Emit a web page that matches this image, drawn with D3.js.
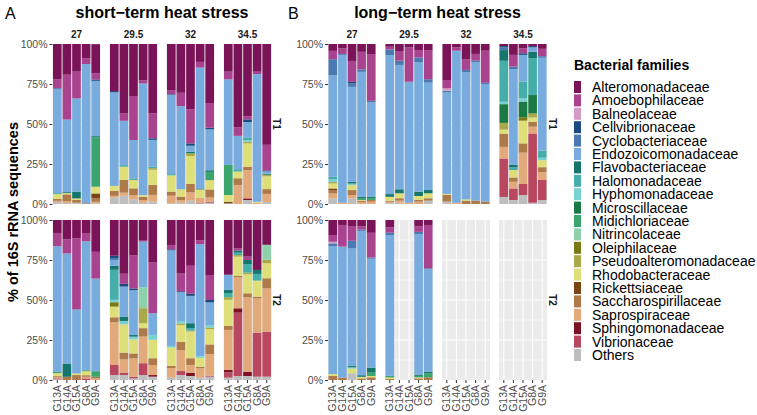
<!DOCTYPE html>
<html><head><meta charset="utf-8">
<script src="https://cdn.jsdelivr.net/npm/d3@7"></script>
<style>
body{margin:0;background:#fff;}
svg{display:block;font-family:"Liberation Sans",Arial,Helvetica,sans-serif;}
</style></head>
<body><svg id="chart" width="757" height="415"></svg>
<script>
const experimentTitles = ["short\u2212term heat stress", "long\u2212term heat stress"];
const panelLetters = ["A", "B"];
const temps = ["27", "29.5", "32", "34.5"];
const times = ["T1", "T2"];
const samples = ["G13A", "G14A", "G15A", "G8A", "G9A"];
const yTicks = [0, 25, 50, 75, 100];
const families = ["Alteromonadaceae","Amoebophilaceae","Balneolaceae","Cellvibrionaceae","Cyclobacteriaceae",
  "Endozoicomonadaceae","Flavobacteriaceae","Halomonadaceae","Hyphomonadaceae","Microscillaceae",
  "Midichloriaceae","Nitrincolaceae","Oleiphilaceae","Pseudoalteromonadaceae","Rhodobacteraceae",
  "Rickettsiaceae","Saccharospirillaceae","Saprospiraceae","Sphingomonadaceae","Vibrionaceae","Others"];
const familyColors = ["#7b1359","#a9428f","#d39cc4","#1c4a7e","#4b7ab2","#78abde","#14766c","#45aea8",
  "#78d2d0","#1a7a43","#3aa56c","#8fd1ab","#7a7a14","#aaa94a","#dfdf7a","#7a4513","#ae7a4a","#e2a97a",
  "#7c1224","#b9475f","#bebebe"];

// bar order: [short T1 (27,29.5,32,34.5 x samples)], [short T2], [long T1], [long T2]
const Alteromonadaceae = [
 22,19.2,17.3,9,18.3, 29.4,43.4,32.5,22.7,43.3, 28.8,30.5,40.8,11.2,36.9, 17.3,52,45.1,17.3,63,
 8.1,12.1,11.5,8.5,19.9, 22.3,33.6,22,12.9,26.6, 15.6,33.5,28.6,12.6,34.4, 34.2,17.6,22.9,31.2,15.5,
 4.3,2.7,10.6,4.9,6.3, 1.7,4.4,2.1,3.8,4.1, 22.5,2.1,9.5,6.2,4.2, 1.3,6.8,2.7,1.3,3,
 9.4,3.1,3.8,3.9,8, 4.6,0,0,3.9,3.1, 0,0,0,0,0, 0,0,0,0,0];
const Amoebophilaceae = [
 5.6,28,16.7,3.5,3.8, 0,4.6,27.5,2,15.6, 2.5,8.3,21.3,3.5,15.4, 4.8,5.4,2,1.5,16,
 8.3,8.8,44.4,4.8,16.7, 0,6.3,20.8,0.6,31.7, 2.7,11,17.5,2.5,15.6, 0,1.5,2.1,0,0,
 5.2,3.5,13.1,11,29.2, 1.7,6,21.5,4.6,17.9, 5.2,2.1,6.7,4.2,20, 0,7.3,3.1,0,4.6,
 4.2,13.5,9.2,2.1,15.4, 3.3,0,0,3.5,27.1, 0,0,0,0,0, 0,0,0,0,0];
const Balneolaceae = [
 0,0,0,0,0, 0,0,0,0,0, 0,0,0,0,0, 0,0,0,0,0,
 0,0,0,0,0, 0,0,0,0,0, 0,0,0,0,0, 0,0,0,0,0,
 0,0,0,0,0, 0,0,0,0,0, 1.5,0,0,0,0, 0,0,0,0,0,
 1,0,0,0,0, 0,0,0,0,0, 0,0,0,0,0, 0,0,0,0,0];
const Cellvibrionaceae = [
 0,0,0,0,0.8, 0.8,0,0,0,1, 0,0,1.5,0,1, 0,0,1.7,0,0.6,
 0,0,0,0,0, 1.5,1.7,1,0,0, 0.6,0.6,1.3,0,1.5, 0,0,0,0,0,
 0,0,1,0,0, 0,0,0,0,0, 0,0,0,0,0, 0.8,0,1,0.8,0,
 0,0,0,0,0, 0,0,0,0,0, 0,0,0,0,0, 0,0,0,0,0];
const Cyclobacteriaceae = [
 0.8,0,0,0,0, 0,0,0,0,0, 0.8,0,0,0,0, 0,0,0,0,0,
 0,0,0,0,0, 1.5,0,0,0,0, 0,0,0,0,0, 0,0,0,0,0,
 10,0.6,2.1,1.5,1, 3.5,2.7,0,3.1,2.1, 1,0,1.5,1,0.8, 1.7,1.7,0,0,1,
 1.7,0,4.8,0.8,0.8, 1.5,0,0,1.5,0.6, 0,0,0,0,0, 0,0,0,0,0];
const Endozoicomonadaceae = [
 64.8,45.4,58.3,87,34.6, 58.5,27.7,24,69.8,16.7, 49.2,52,3.7,75.6,25.6, 53.5,20.8,9.6,79.8,1.5,
 78.5,68.8,40,80.6,57.9, 3.3,18.8,28.1,28.5,13.5, 59.8,18.1,17.1,70,14.2, 9.4,0,0,0,0,
 63.5,92.4,59.4,78.1,59, 86.9,77.7,75.6,80.8,67.1, 63.5,95,79.4,86.5,73.5, 0,59.8,16.7,2.7,58,
 80,81.9,73.5,90.2,68.1, 88,0,0,87.7,64, 0,0,0,0,0, 0,0,0,0,0];
const Flavobacteriaceae = [
 0,0.6,4.2,0,0.8, 0,0,0,0,0, 0,0,1,0.6,1, 0,0,0,0,0.6,
 0,8.3,0,0,0, 2.5,2.7,1,0,0, 0,0,3.1,0,0, 2.1,1.3,2.5,2.5,0,
 0,0,1,1,1, 1.7,2.5,0,2.7,2.1, 0,0,0,0,0, 6.7,1.5,0,4.2,0,
 0,0,0.8,1,3.1, 0,0,0,0.8,1, 0,0,0,0,0, 0,0,0,0,0];
const Halomonadaceae = [
 0.6,0,0,0,0, 0,1,1,0,1, 0.8,0,0,0,0, 0,1.5,1.7,0,0,
 0,0,0,0,0, 18.8,0,0,0,0, 0,0,1.5,0,0, 2.5,1.5,5.4,4.2,0,
 1.5,0,0,0,0, 0,0,0,0,0, 0,0,0,0,0, 25.6,1.7,10.4,22.9,4.5,
 0,0,0,0,0, 0,0,0,0,0, 0,0,0,0,0, 0,0,0,0,0];
const Hyphomonadaceae = [
 0,0,0,0,0, 0,0,0,0,0, 0,0,0,0,0, 0,0,1,0,0,
 0,0,0,0,0, 1.5,2.1,1.7,0,3.1, 1,1.5,0,1,1.5, 0,0,0,0,0,
 1.7,0,1,0,0, 0,0,0,0,0, 0,0,0,0,0, 1.5,0,2.1,0,1.5,
 0,0,0.8,0,0, 0,0,0,0,0, 0,0,0,0,0, 0,0,0,0,0];
const Microscillaceae = [
 0,0,0,0,0, 0,0,0,0,0, 0,0,0,0,0, 0,0,0,0,0,
 0,0,0,0,0, 0,0,0,0,0, 0,0,0,0,0, 0,0,0,0,0,
 0,0,0,0,0, 0,0,0,0,0, 0,0,0,0,0, 11.7,0,9.8,11.5,0,
 0,0,0,0,0, 0,0,0,0,0, 0,0,0,0,0, 0,0,0,0,0];
const Midichloriaceae = [
 0,0,0,0,30.8, 0,0,0,0,0, 0,0,0,0,5.2, 18.8,0,0,0,0,
 0.8,0,0,0.6,3.5, 0,0,0,0,0, 0,0,0,0,0, 0,0,0,0,0,
 0,0,0,1,1, 0,0,0,0,0, 0,0,0,0,0, 0,0,0,0,0,
 0,0,0,0,2.1, 1,0,0,1,2.5, 0,0,0,0,0, 0,0,0,0,0];
const Nitrincolaceae = [
 0,0,0,0,0, 0,0,0,0,0, 0,0,0,0,0, 0,0,0,0,0,
 0,0,0,0,0, 0,0,0,13.1,0, 0,0,0,0,0, 0,0,0,0,9.4,
 0,0,0,0,0, 0,0,0,0,0, 0,0,0,0,0, 0,0,0,0,0,
 0,0,0,0,0, 0,0,0,0,0, 0,0,0,0,0, 0,0,0,0,0];
const Oleiphilaceae = [
 0,0,0,0,0, 0,0,0,0,0, 0,0,0,0,0, 0,0,0,0,0,
 0,0,0,0,0, 2.7,0,0,0,0, 0,0,0,0,0, 0,0,0,0,0,
 0,0,0,0,0, 0,0,0,0,0, 0,0,0,0,0, 0,0,2.1,0,0,
 0,0,0,0,0, 0,0,0,0,0, 0,0,0,0,0, 0,0,0,0,0];
const Pseudoalteromonadaceae = [
 0,0,0,0,0, 0,0,0,0,1, 0,0,1.7,0,0, 0,0,1,0,1,
 0,0,0,0,0, 0,0,0,9.4,0, 0,1,0.6,0,1, 1.7,1,1,0,2.1,
 1,0,0,0,0, 0,0,0,0,0, 0,0,0,0,0, 4.2,0,0,2.5,0,
 0,0,0,0,0, 0,0,0,0,0, 0,0,0,0,0, 0,0,0,0,0];
const Rhodobacteraceae = [
 3,0.8,1,0,4.2, 3.1,8.3,5.2,1,9.4, 10.2,4.6,17.5,5.2,5.8, 4.2,4.2,14.6,0.6,8,
 1.9,0,1,2.5,0, 6.7,17.7,8.8,3.1,11.5, 11.5,10.4,16.7,5.6,9.6, 16.3,12.1,11.9,10,9.4,
 3.1,0,3.1,0.4,0, 2.5,3.1,0,2.5,3.1, 0.6,0,0.8,0,0, 2.5,4.6,14.2,2.7,4.4,
 1.2,0,2.9,1,0.8, 1,0,0,0.6,0, 0,0,0,0,0, 0,0,0,0,0];
const Rickettsiaceae = [
 0,0,0,0,3.1, 0,0,0,0,0, 0,0,0,0,0, 1,0,0,0,0,
 0,0,0,0,0, 0,0,0,0,0, 0,0,0,0,0, 0,0,0,0,0,
 1,0,0,0,0, 0,0,0,0,0, 0,0,0,0,0, 0,0,0,0,0,
 0,0,0,0,0, 0,0,0,0,0, 0,0,0,0,0, 0,0,0,0,0];
const Saccharospirillaceae = [
 1.2,4.2,1.7,0.5,2.1, 3.1,7.9,4.2,2,6.3, 2.5,2.1,5.2,0,5, 0,4.2,2.1,0,3,
 0.8,2,3.1,1,1, 3.1,4.2,3.1,5.2,4.2, 1.3,5.2,4.2,1,6, 2.5,0.8,2.5,1,6.3,
 2.1,0,3.1,0.8,1, 0.6,1.5,0,1,1.5, 4.2,0,2.1,2.1,1.5, 8.3,2.7,5.8,3.1,3,
 2.5,1.5,0,1,1.7, 0.6,0,0,1,1.7, 0,0,0,0,0, 0,0,0,0,0];
const Saprospiraceae = [
 0.8,1.2,0,0,1, 1,1.9,2.7,1.7,4.2, 4.8,1.7,5.2,3.1,2.7, 0,11.9,17.7,0.8,5,
 0.6,0,0,1,1, 26.7,8.3,11.5,16.7,6.3, 6,13.1,4.8,5.8,13.5, 25,19.4,46.5,21.5,27.1,
 3.1,0.8,2.1,1.3,1.5, 0.6,1.3,0.8,1.5,0, 0,0.8,0,0,0, 7.3,4.2,19.6,4.2,5,
 0,0,0,0,0, 0,0,0,0,0, 0,0,0,0,0, 0,0,0,0,0];
const Sphingomonadaceae = [
 0,0,0,0,0, 0,0,0,0,0, 0,0,0,0,0, 0,0,1,0,0,
 0,0,0,0,0, 0,0,0,0,1, 0,0,2.1,0,0, 1.5,2.7,2.7,0,0,
 0,0,0,0,0, 0,0,0,0,0, 0,0,0,0,0, 0,0,0,0,0,
 0,0,0,0,0, 0,0,0,0,0, 0,0,0,0,0, 0,0,0,0,0];
const Vibrionaceae = [
 0,0,0,0,0, 0,0,0,0,0, 0,0,0,0.4,0.6, 0,0,0,0,0,
 0.6,0,0,1,0, 6.3,1.5,1,7.4,0, 0,2.5,0,0,0.6, 3.3,39.6,0,27.5,28.1,
 0,0,0,0,0, 0,0,0,0,0, 0,0,0,0,0, 24,7.2,6.9,43.3,12.5,
 0,0,0,0,0, 0,0,0,0,0, 0,0,0,0,0, 0,0,0,0,0];
const Others = [
 1.2,0.6,0.8,0,0.4, 4.1,5.2,2.9,0.8,1.5, 0.4,0.8,2.1,0.4,0.8, 0.4,0,2.5,0,1.3,
 0.4,0,0,0,0, 3.1,3.1,1,3.1,2.1, 1.5,3.1,2.5,1.5,2.1, 1.5,2.5,2.5,2.1,2.1,
 3.5,0,3.5,0,0, 0.8,0.8,0,0,2.1, 1.5,0,0,0,0, 4.4,2.5,5.6,0.8,2.5,
 0,0,4.2,0,0, 0,0,0,0,0, 0,0,0,0,0, 0,0,0,0,0];

const seriesValues = [Alteromonadaceae,Amoebophilaceae,Balneolaceae,Cellvibrionaceae,Cyclobacteriaceae,
  Endozoicomonadaceae,Flavobacteriaceae,Halomonadaceae,Hyphomonadaceae,Microscillaceae,Midichloriaceae,
  Nitrincolaceae,Oleiphilaceae,Pseudoalteromonadaceae,Rhodobacteraceae,Rickettsiaceae,Saccharospirillaceae,
  Saprospiraceae,Sphingomonadaceae,Vibrionaceae,Others];

// ---------- build records ----------
const bars = [];
experimentTitles.forEach((e, ei) => times.forEach((t, ti) => temps.forEach((tp, pi) => samples.forEach((s, si) => {
  const idx = ei * 40 + ti * 20 + pi * 5 + si;
  const rec = {exp: ei, time: ti, temp: pi, sample: s};
  families.forEach((f, fi) => rec[f] = seriesValues[fi][idx]);
  bars.push(rec);
}))));

const svg = d3.select("#chart");
const color = d3.scaleOrdinal().domain(families).range(familyColors);
const stackKeys = families.slice().reverse();

const panelW = 48, panelGap = 9;
const expLeft = [52.5, 328];
const letterX = [5, 288];
const rowTop = [44, 220], panelH = 160;
const ink = "#1a1a1a", tickCol = "#333333", labelCol = "#4d4d4d";

const x = d3.scaleBand().domain(samples).range([0, panelW]).paddingInner(0.1).paddingOuter(0.05);
const y = d3.scaleLinear().domain([0, 100]).range([panelH, 0]);

experimentTitles.forEach((title, ei) => {
  const left = expLeft[ei];
  const width = 4 * panelW + 3 * panelGap;
  svg.append("text").attr("x", letterX[ei]).attr("y", 19)
    .attr("font-size", 16).attr("fill", "#000").text(panelLetters[ei]);
  svg.append("text").attr("x", left + width / 2).attr("y", 18).attr("text-anchor", "middle")
    .attr("font-size", 16).attr("font-weight", "bold").attr("fill", "#000").text(title);

  temps.forEach((tp, pi) => {
    const px = left + pi * (panelW + panelGap);
    svg.append("text").attr("x", px + panelW / 2).attr("y", 38).attr("text-anchor", "middle")
      .attr("font-size", 10).attr("font-weight", "bold").attr("fill", ink).text(tp);
  });

  times.forEach((tm, ti) => {
    const py = rowTop[ti];
    svg.append("text").attr("transform", `translate(${left + width + 5},${py + panelH / 2}) rotate(90)`)
      .attr("text-anchor", "middle").attr("dy", "0.35em").attr("font-size", 10).attr("font-weight", "bold")
      .attr("fill", ink).text(tm);

    const yAxis = svg.append("g").attr("transform", `translate(${left},${py})`)
      .call(d3.axisLeft(y).tickValues(yTicks).tickFormat(d => d + "%").tickSize(3).tickPadding(2));
    yAxis.select(".domain").remove();
    yAxis.selectAll("line").attr("stroke", tickCol);
    yAxis.selectAll("text").attr("fill", labelCol).attr("font-size", 10.5)
      .attr("font-family", "'Liberation Sans',Arial,sans-serif");

    temps.forEach((tp, pi) => {
      const px = left + pi * (panelW + panelGap);
      const g = svg.append("g").attr("transform", `translate(${px},${py})`);
      g.append("rect").attr("width", panelW).attr("height", panelH).attr("fill", "#ebebeb");
      [12.5, 37.5, 62.5, 87.5].forEach(v => g.append("line").attr("x1", 0).attr("x2", panelW)
        .attr("y1", y(v)).attr("y2", y(v)).attr("stroke", "#fff").attr("stroke-width", 0.5));
      [25, 50, 75].forEach(v => g.append("line").attr("x1", 0).attr("x2", panelW)
        .attr("y1", y(v)).attr("y2", y(v)).attr("stroke", "#fff").attr("stroke-width", 1));
      samples.forEach(s => g.append("line").attr("x1", x(s) + x.bandwidth() / 2).attr("x2", x(s) + x.bandwidth() / 2)
        .attr("y1", 0).attr("y2", panelH).attr("stroke", "#fff").attr("stroke-width", 1));

      const data = bars.filter(b => b.exp === ei && b.time === ti && b.temp === pi)
        .filter(b => d3.sum(families, f => b[f]) > 0);
      const stacked = d3.stack().keys(stackKeys)(data);
      stacked.forEach(layer => {
        g.selectAll(null).data(layer.filter(d => d[1] - d[0] > 0)).enter().append("rect")
          .attr("x", d => x(d.data.sample)).attr("width", x.bandwidth())
          .attr("y", d => y(d[1])).attr("height", d => y(d[0]) - y(d[1]))
          .attr("fill", color(layer.key));
      });

      if (ti === 1) {
        const xa = svg.append("g").attr("transform", `translate(${px},${py + panelH})`)
          .call(d3.axisBottom(x).tickSize(3).tickPadding(2));
        xa.select(".domain").remove();
        xa.selectAll("line").attr("stroke", tickCol);
        xa.selectAll("text").attr("fill", labelCol).attr("font-size", 10.5)
          .attr("font-family", "'Liberation Sans',Arial,sans-serif")
          .attr("transform", "rotate(-90)").attr("x", -5).attr("y", 0).attr("dy", "0.35em")
          .style("text-anchor", "end");
      }
    });
  });
});

svg.append("text").attr("transform", `translate(13,${(rowTop[0] + rowTop[1] + panelH) / 2}) rotate(-90)`)
  .attr("text-anchor", "middle").attr("dy", "0.35em").attr("font-size", 14.5).attr("font-weight", "bold")
  .attr("fill", "#000").text("% of 16S rRNA sequences");

// legend
const lg = svg.append("g").attr("transform", "translate(574,0)");
lg.append("text").attr("x", 0).attr("y", 70).attr("font-size", 14).attr("font-weight", "bold")
  .attr("fill", "#000").text("Bacterial families");
families.forEach((f, i) => {
  const cy = 87 + i * 13.4;
  lg.append("rect").attr("x", 0).attr("y", cy - 6).attr("width", 7).attr("height", 12).attr("fill", color(f));
  lg.append("text").attr("x", 18).attr("y", cy).attr("dy", "0.35em").attr("font-size", 14)
    .attr("fill", "#000").text(f);
});
</script></body></html>
